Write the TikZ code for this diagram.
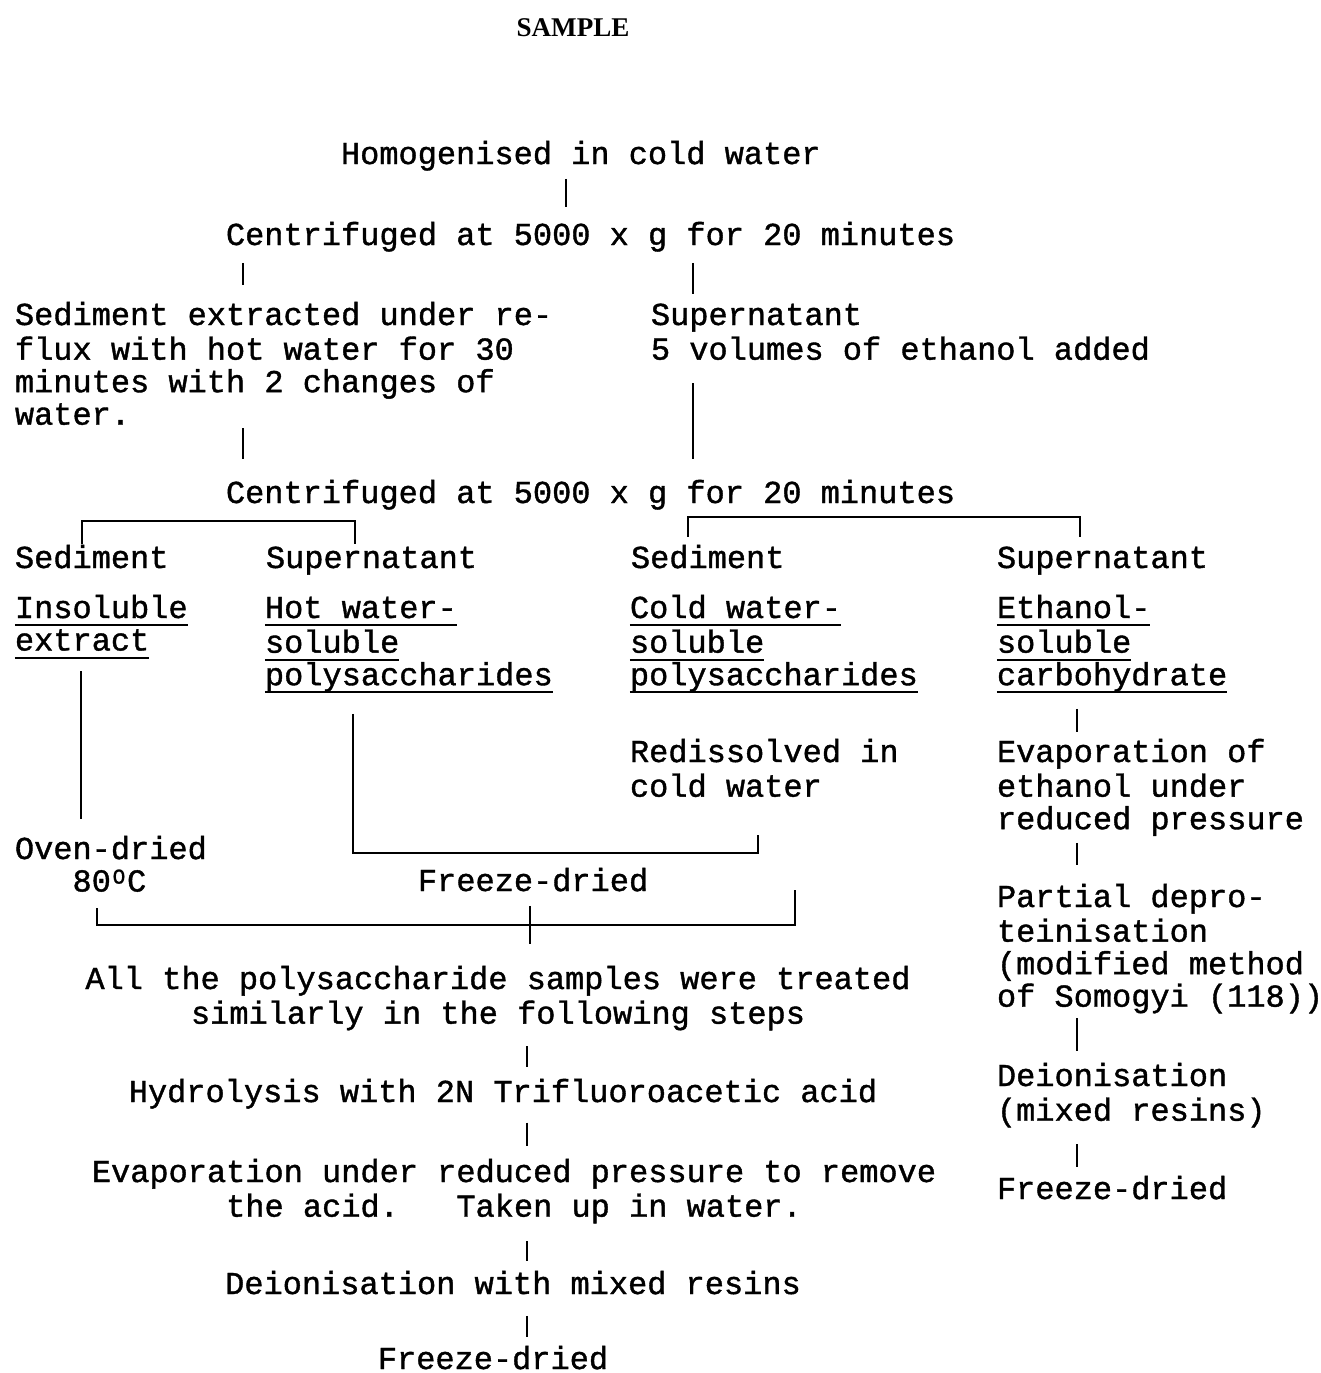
\documentclass[tikz,border=0pt]{standalone}
\usepackage{fontspec}
\setmainfont{Liberation Serif}
\newfontfamily\typew[FakeBold=1.2]{Liberation Mono}
\newcommand\uln[1]{\leavevmode\setbox0\hbox{#1}\rlap{\rule[-4.6pt]{\wd0}{1.1pt}}\box0}
\newcommand\degO{\kern1pt\raisebox{4.5pt}{\fontsize{12pt}{12pt}\selectfont O}\kern1pt}

\begin{document}
\begin{tikzpicture}[x=0.02cm, y=-0.02cm, line width=1.1pt,
  every node/.style={inner sep=0pt, font=\typew\fontsize{18.2pt}{18.5pt}\selectfont,
    execute at begin node={\spaceskip=0.6em\xspaceskip=0.6em\strut}, execute at end node=\strut},
  left box/.style={anchor=base west, text width=12cm, align=left},
  mid box/.style={anchor=base, text width=18cm, align=center}]

    \useasboundingbox (0,0) rectangle (1321,1373);

    \node[anchor=base, font=\bfseries\fontsize{15.4pt}{18pt}\selectfont] (sample) at (573,36) {SAMPLE};

    \node[anchor=base west] (homog) at (340,164) {Homogenised in cold water};
    \node[anchor=base west] (cenA) at (225,245) {Centrifuged at 5000 x g for 20 minutes};
    \node[left box] (sedA) at (14,325) {Sediment extracted under re-\\flux with hot water for 30\\minutes with 2 changes of\\water.};
    \node[left box] (supA) at (650,325) {Supernatant\\5 volumes of ethanol added};
    \node[anchor=base west] (cenB) at (225,503) {Centrifuged at 5000 x g for 20 minutes};

    \node[anchor=base west] (sedB) at (14,568) {Sediment};
    \node[anchor=base west] (supB) at (265,568) {Supernatant};
    \node[anchor=base west] (sedC) at (630,568) {Sediment};
    \node[anchor=base west] (supC) at (996,568) {Supernatant};

    \node[left box] (insol) at (14,618) {\uln{Insoluble}\\\uln{extract}};
    \node[left box] (hotsol) at (264,618) {\uln{Hot water-}\\\uln{soluble}\\\uln{polysaccharides}};
    \node[left box] (coldsol) at (629,618) {\uln{Cold water-}\\\uln{soluble}\\\uln{polysaccharides}};
    \node[left box] (ethsol) at (996,618) {\uln{Ethanol-}\\\uln{soluble}\\\uln{carbohydrate}};

    \node[left box] (redis) at (629,762) {Redissolved in\\cold water};
    \node[left box] (evapE) at (996,762) {Evaporation of\\ethanol under\\reduced pressure};
    \node[left box] (oven) at (14,859) {Oven-dried\\\phantom{Ove}80\degO C};
    \node[anchor=base west] (freezeA) at (417,891) {Freeze-dried};
    \node[left box] (deprot) at (996,907) {Partial depro-\\teinisation\\(modified method\\of Somogyi (118))};
    \node[left box] (deionE) at (996,1086) {Deionisation\\(mixed resins)};
    \node[anchor=base west] (freezeE) at (996,1199) {Freeze-dried};

    \node[mid box] (allpoly) at (498,989) {All the polysaccharide samples were treated\\similarly in the following steps};
    \node[anchor=base] (hydro) at (503,1102) {Hydrolysis with 2N Trifluoroacetic acid};
    \node[mid box] (evapB) at (514,1182) {Evaporation under reduced pressure to remove\\the acid.\ \ \ Taken up in water.};
    \node[anchor=base] (deion) at (513,1294) {Deionisation with mixed resins};
    \node[anchor=base] (freezeB) at (493,1369) {Freeze-dried};

    \coordinate (joinA) at (555,853);
    \coordinate (mergeB) at (530,925);
    \coordinate (joinB) at (795,890);

    % upper part
    \draw[shorten <=2.3pt, shorten >=8pt] (homog.south -| 566,0) -- (cenA.north -| 566,0);
    \draw[shorten <=4pt, shorten >=9.1pt] (cenA.south -| 243,0) -- (sedA.north -| 243,0);
    \draw[shorten <=4pt, shorten >=4pt] (cenA.south -| 693,0) -- (supA.north -| 693,0);
    \draw[shorten <=-4pt, shorten >=11.4pt] (sedA.south -| 243,0) -- (cenB.north -| 243,0);
    \draw[shorten <=7.4pt, shorten >=11.4pt] (supA.south -| 693,0) -- (cenB.north -| 693,0);

    % brackets under second centrifuging
    \draw (sedB.north -| 82,0) -- ++(0,-23) -| (supB.north -| 355,0);
    \draw[shorten <=4pt, shorten >=4pt] (sedC.north -| 688,0) -- ++(0,-27) -| (supC.north -| 1080,0);

    % drying
    \draw[shorten <=5.7pt, shorten >=9.1pt] (insol.south -| 81,0) -- (oven.north -| 81,0);
    \draw[shorten <=10.2pt, shorten >=15.9pt] (hotsol.south -| 353,0) |- (joinA) -| (redis.south -| 758,0);
    \draw[shorten <=3.4pt] (oven.south -| 97,0) |- (mergeB) -| (joinB);
    \draw[shorten <=2.3pt, shorten >=12pt] (freezeA.south -| 530,0) -- (allpoly.north -| 530,0);

    % ethanol-soluble branch
    \draw[shorten <=7.4pt, shorten >=3.4pt] (ethsol.south -| 1077,0) -- (evapE.north -| 1077,0);
    \draw[shorten <=1.7pt, shorten >=10.2pt] (evapE.south -| 1077,0) -- (deprot.north -| 1077,0);
    \draw[shorten <=0.6pt, shorten >=6.3pt] (deprot.south -| 1077,0) -- (deionE.north -| 1077,0);
    \draw[shorten <=7.4pt, shorten >=4.6pt] (deionE.south -| 1077,0) -- (freezeE.north -| 1077,0);

    % common steps
    \draw[shorten <=6.8pt, shorten >=6.3pt] (allpoly.south -| 527,0) -- (hydro.north -| 527,0);
    \draw[shorten <=5.7pt, shorten >=6.8pt] (hydro.south -| 527,0) -- (evapB.north -| 527,0);
    \draw[shorten <=8pt, shorten >=5.1pt] (evapB.south -| 527,0) -- (deion.north -| 527,0);
    \draw[shorten <=6.3pt, shorten >=4.6pt] (deion.south -| 527,0) -- (freezeB.north -| 527,0);

\end{tikzpicture}
\end{document}
